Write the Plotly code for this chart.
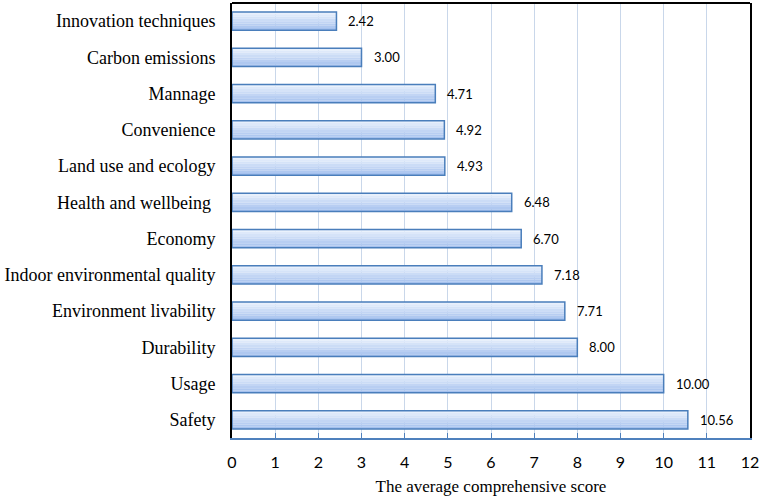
import plotly.graph_objects as go

categories = ["Innovation techniques", "Carbon emissions", "Mannage", "Convenience",
              "Land use and ecology", "Health and wellbeing ", "Economy",
              "Indoor environmental quality", "Environment livability", "Durability",
              "Usage", "Safety"]
scores = [2.42, 3.00, 4.71, 4.92, 4.93, 6.48, 6.70, 7.18, 7.71, 8.00, 10.00, 10.56]
score_labels = ["2.42", "3.00", "4.71", "4.92", "4.93", "6.48", "6.70", "7.18", "7.71", "8.00", "10.00", "10.56"]
x_ticks = list(range(0, 13))

fig = go.Figure()

# gradient simulation: horizontal slices, top light -> bottom darker
n = 8
bar_w = 0.5
top_rgb = (232, 240, 252)
bot_rgb = (165, 193, 238)
for i in range(n):
    t = i / (n - 1)
    c = tuple(int(round(top_rgb[k] + (bot_rgb[k] - top_rgb[k]) * t)) for k in range(3))
    fig.add_trace(go.Bar(
        y=categories, x=scores, orientation="h",
        width=bar_w / n, offset=-bar_w / 2 + i * bar_w / n,
        marker=dict(color="rgb(%d,%d,%d)" % c, line=dict(width=0)),
        hoverinfo="skip", showlegend=False))

# outline
fig.add_trace(go.Bar(
    y=categories, x=scores, orientation="h", width=bar_w,
    marker=dict(color="rgba(0,0,0,0)", line=dict(color="#4A7EBB", width=1.5)),
    showlegend=False))

for cat, v, lab in zip(categories, scores, score_labels):
    fig.add_annotation(x=v, y=cat, text=lab, showarrow=False, xanchor="left",
                       xshift=10, font=dict(family="Lato, Liberation Sans", size=13, color="#000"))

fig.add_shape(type="line", xref="paper", yref="paper", x0=0, x1=1, y0=1, y1=1,
              line=dict(color="black", width=2))

fig.update_layout(
    width=762, height=501,
    margin=dict(l=232, r=10, t=3, b=63),
    plot_bgcolor="white", paper_bgcolor="white",
    barmode="overlay",
    xaxis=dict(range=[0, 12], tickvals=x_ticks, ticktext=[str(t) for t in x_ticks],
               showgrid=True, gridcolor="#C9D7EA", gridwidth=1,
               showline=True, linecolor="#4F81BD", linewidth=2,
               ticks="inside", ticklen=5, tickcolor="#4F81BD",
               ticklabelstandoff=9,
               tickfont=dict(family="Lato, Liberation Sans", size=16, color="#000"),
               title=dict(text="The average comprehensive score", standoff=10,
                          font=dict(family="Liberation Serif", size=17, color="#000")),
               zeroline=False),
    yaxis=dict(autorange="reversed", showline=True, linecolor="black", linewidth=2,
               mirror=True, ticks="", ticklabelstandoff=11,
               tickfont=dict(family="Liberation Serif", size=18, color="#000"),
               range=[11.5, -0.5]),
)

fig.write_html("out.html")
